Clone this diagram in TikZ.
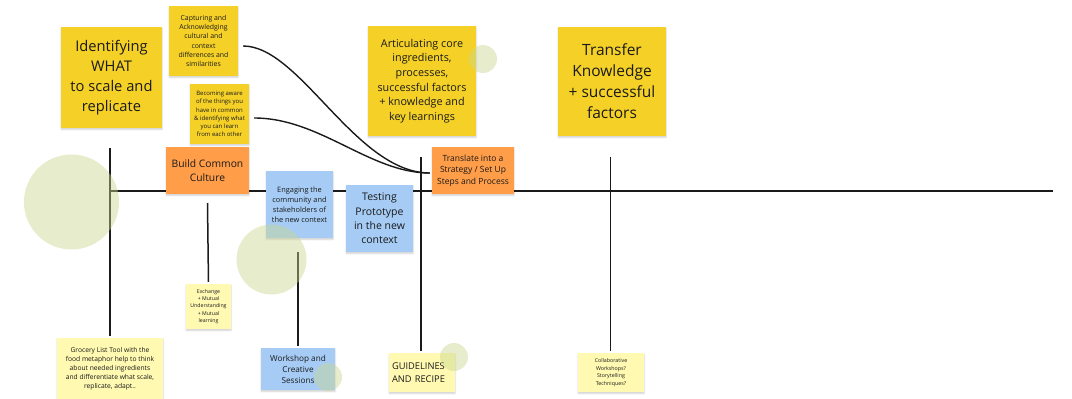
\documentclass[tikz,border=0pt]{standalone}
\usepackage{fontspec}
\setmainfont{Open Sans}
\usetikzlibrary{shadows.blur}
\definecolor{stickyyellow}{HTML}{F5D128}
\definecolor{stickyorange}{HTML}{FF9D48}
\definecolor{stickyblue}{HTML}{A6CCF5}
\definecolor{stickypale}{HTML}{FFF9B1}
\definecolor{ink}{HTML}{1A1A1A}
\definecolor{sage}{HTML}{C9D68F}
\newcommand\notesize[2]{\fontsize{#1}{#2}\selectfont}
\tikzset{
  note/.style={rectangle, inner sep=2pt, align=center, text=ink,
    blur shadow={shadow xshift=0pt, shadow yshift=-1.5pt,
      shadow blur radius=1.5pt, shadow opacity=18}},
  yellownote/.style={note, fill=stickyyellow},
  orangenote/.style={note, fill=stickyorange},
  bluenote/.style={note, fill=stickyblue},
  palenote/.style={note, fill=stickypale},
  timeline/.style={draw=ink, line width=1.5pt},
  branch/.style={draw=ink, line width=1.5pt, shorten >=2pt},
  link/.style={draw=ink, line width=1.4pt},
  blob/.style={fill=sage, fill opacity=0.45, draw=none}
}
\begin{document}
\begin{tikzpicture}[x=1pt, y=-1pt]
\useasboundingbox (0,0) rectangle (1072,399);

% timeline and its anchor points
\coordinate (axisL) at (110,191);
\coordinate (axisR) at (1053,191);
\coordinate (t1) at (110,148);
\coordinate (t2) at (207.5,203);
\coordinate (t3) at (298,252);
\coordinate (t4) at (421,157);
\coordinate (t5) at (610.5,157);
\draw[timeline] (axisL) -- (axisR);

% sticky notes
\node[yellownote, minimum width=101pt, minimum height=101pt, font=\notesize{14.7}{20}]
  (ident) at (111.5,77.5) {Identifying\\WHAT\\to scale and\\replicate};
\node[yellownote, minimum width=69pt, minimum height=70pt, font=\notesize{6.9}{9.3}]
  (capt) at (203.5,41) {Capturing and\\Acknowledging\\cultural and\\context\\differences and\\similarities};
\node[yellownote, minimum width=59pt, minimum height=60pt, font=\notesize{6}{8.2}]
  (aware) at (219.5,114) {Becoming aware\\of the things you\\have in common\\\& identifying what\\you can learn\\from each other};
\node[orangenote, minimum width=83pt, minimum height=47pt, font=\notesize{10.3}{13.7}]
  (culture) at (207.5,170.5) {Build Common\\Culture};
\node[bluenote, minimum width=67pt, minimum height=67pt, font=\notesize{7.4}{10}]
  (engage) at (299.5,204.5) {Engaging the\\community and\\stakeholders of\\the new context};
\node[bluenote, minimum width=67pt, minimum height=67pt, font=\notesize{10.5}{14.3}]
  (proto) at (379.5,218.5) {Testing\\Prototype\\in the new\\context};
\node[orangenote, minimum width=82pt, minimum height=47pt, font=\notesize{8.5}{11.5}]
  (strategy) at (473,170.5) {Translate into a\\Strategy / Set Up\\Steps and Process};
\node[yellownote, minimum width=108pt, minimum height=110pt, font=\notesize{10.8}{14.7}]
  (core) at (422,81) {Articulating core\\ingredients,\\processes,\\successful factors\\+ knowledge and\\key learnings};
\node[yellownote, minimum width=108pt, minimum height=109pt, font=\notesize{15.5}{21}]
  (transfer) at (612,81.5) {Transfer\\Knowledge\\+ successful\\factors};
\node[palenote, minimum width=45pt, minimum height=45pt, font=\notesize{5.2}{7.2}]
  (exchange) at (208.5,306.5) {Exchange\\+ Mutual\\Understanding\\+ Mutual\\learning};
\node[palenote, minimum width=106pt, minimum height=61pt, font=\notesize{6.7}{9.1}]
  (grocery) at (110,368.5) {Grocery List Tool with the\\food metaphor help to think\\about needed ingredients\\and differentiate what scale,\\replicate, adapt..};
\node[bluenote, minimum width=74pt, minimum height=42pt, font=\notesize{8.2}{11}]
  (workshop) at (298,369) {Workshop and\\Creative\\Sessions};
\node[palenote, minimum width=66pt, minimum height=39pt, align=left, text width=60pt, font=\notesize{9.3}{12.7}]
  (recipe) at (422,372.5) {GUIDELINES\\AND RECIPE};
\node[palenote, minimum width=66pt, minimum height=39pt, font=\notesize{5.3}{7.5}]
  (collab) at (611,372.5) {Collaborative\\Workshops?\\Storytelling\\Techniques?};

% branches hanging from the timeline
\draw[branch] (t1) -- (grocery.north);
\draw[branch] (t2) -- (exchange.north);
\draw[branch] (t3) -- (workshop.north);
\draw[branch] (t4) -- (recipe.north -| t4);
\draw[branch] (t5) -- (collab.north -| t5);

% curved links into the strategy note
\draw[link] ([shift={(5,5)}]capt.east) .. controls +(57,0) and +(-74,0) .. ([shift={(-2,2.5)}]strategy.west);
\draw[link] ([shift={(5,4)}]aware.east) .. controls +(66,0) and +(-60,0) .. ([shift={(-2,2.5)}]strategy.west);

% translucent dots
\fill[blob] (71.5,202) circle (47.5);
\fill[blob] (271.5,259.5) circle (35);
\fill[blob] (483,59) circle (14);
\fill[blob] (328,377) circle (14);
\fill[blob] (454,357) circle (14);
\end{tikzpicture}
\end{document}
